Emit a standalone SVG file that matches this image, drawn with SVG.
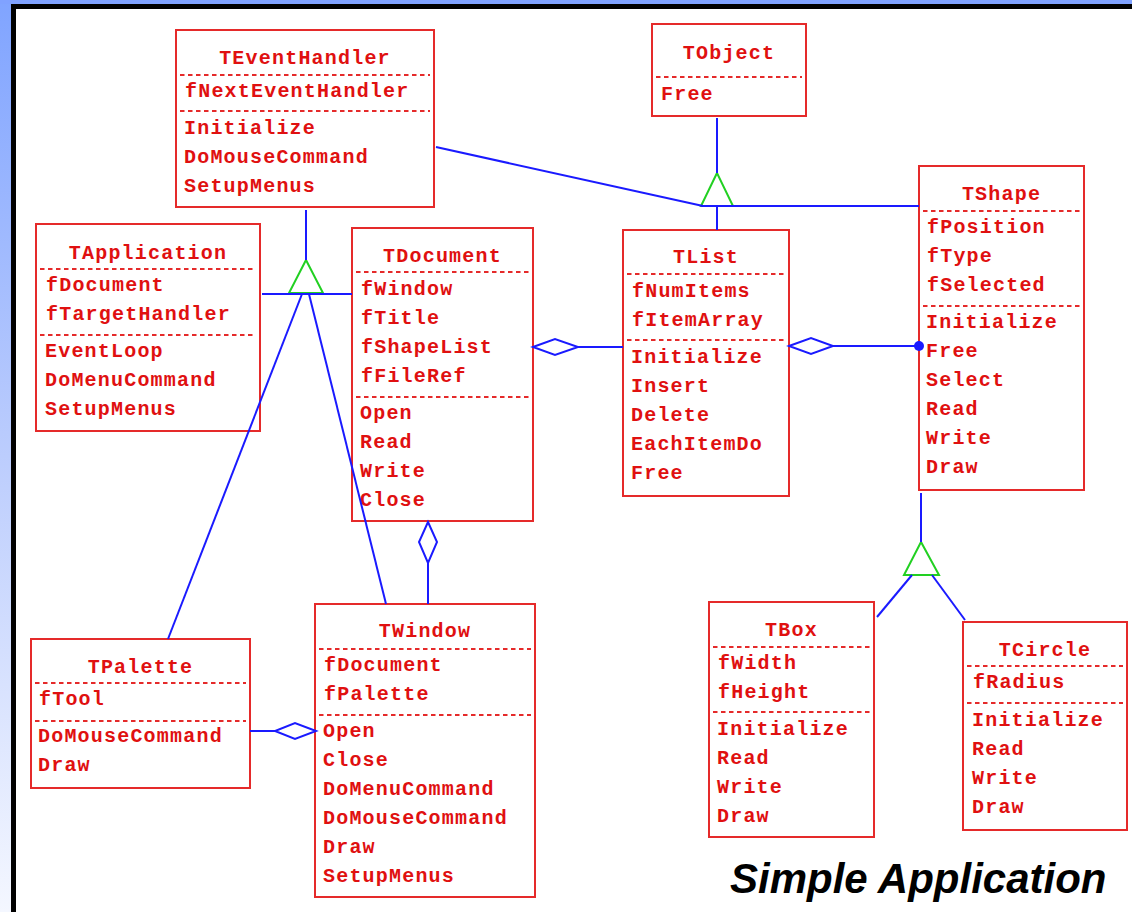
<svg xmlns="http://www.w3.org/2000/svg" width="1132" height="912" viewBox="0 0 1132 912">
  <defs>
    <linearGradient id="sideFade" x1="0" y1="0" x2="0" y2="1">
      <stop offset="0" stop-color="#80a4ff"/>
      <stop offset="0.5" stop-color="#bccdfd"/>
      <stop offset="1" stop-color="#f4f7ff"/>
    </linearGradient>
    <style>
      .box { fill: #ffffff; stroke: #e52a2a; stroke-width: 2; }
      .sep { stroke: #e52a2a; stroke-width: 2; stroke-dasharray: 4.5 3.5; fill: none; }
      .txt { font-family: "Liberation Mono", "Courier New", monospace; font-size: 20px; font-weight: bold; letter-spacing: 1.2px; fill: #e01010; }
      .title { text-anchor: middle; }
      .link { stroke: #1a1aff; stroke-width: 2; fill: none; }
      .agg { stroke: #1a1aff; stroke-width: 2; fill: #ffffff; }
      .gen { stroke: #22d022; stroke-width: 2; fill: #ffffff; }
      .caption { font-family: "Liberation Sans", Arial, sans-serif; font-size: 42px; font-weight: bold; font-style: italic; fill: #000000; }
    </style>
  </defs>

  <!-- frame -->
  <rect x="0" y="0" width="1132" height="912" fill="#ffffff"/>
  <rect x="0" y="0" width="11" height="912" fill="url(#sideFade)"/>
  <rect x="0" y="0" width="1132" height="4" fill="#80a2ff"/>
  <rect x="11" y="4" width="1121" height="5" fill="#000000"/>
  <rect x="11" y="4" width="5" height="908" fill="#000000"/>

  <!-- classes -->
  <g id="TEventHandler">
    <rect class="box" x="176" y="30" width="258" height="177"/>
    <text class="txt title" x="305" y="64">TEventHandler</text>
    <line class="sep" x1="180" y1="75" x2="430" y2="75"/>
    <text class="txt" x="185" y="97">fNextEventHandler</text>
    <line class="sep" x1="180" y1="111" x2="430" y2="111"/>
    <text class="txt" x="184" y="134">Initialize</text>
    <text class="txt" x="184" y="163">DoMouseCommand</text>
    <text class="txt" x="184" y="192">SetupMenus</text>
  </g>

  <g id="TObject">
    <rect class="box" x="652" y="24" width="154" height="92"/>
    <text class="txt title" x="729" y="59">TObject</text>
    <line class="sep" x1="656" y1="77" x2="802" y2="77"/>
    <text class="txt" x="661" y="100">Free</text>
  </g>

  <g id="TApplication">
    <rect class="box" x="36" y="224" width="224" height="207"/>
    <text class="txt title" x="148" y="259">TApplication</text>
    <line class="sep" x1="40" y1="269" x2="256" y2="269"/>
    <text class="txt" x="46" y="291">fDocument</text>
    <text class="txt" x="46" y="320">fTargetHandler</text>
    <line class="sep" x1="40" y1="335" x2="256" y2="335"/>
    <text class="txt" x="45" y="357">EventLoop</text>
    <text class="txt" x="45" y="386">DoMenuCommand</text>
    <text class="txt" x="45" y="415">SetupMenus</text>
  </g>

  <g id="TDocument">
    <rect class="box" x="352" y="228" width="181" height="293"/>
    <text class="txt title" x="442.5" y="262">TDocument</text>
    <line class="sep" x1="356" y1="272" x2="529" y2="272"/>
    <text class="txt" x="361" y="295">fWindow</text>
    <text class="txt" x="361" y="324">fTitle</text>
    <text class="txt" x="361" y="353">fShapeList</text>
    <text class="txt" x="361" y="382">fFileRef</text>
    <line class="sep" x1="356" y1="397" x2="529" y2="397"/>
    <text class="txt" x="360" y="419">Open</text>
    <text class="txt" x="360" y="448">Read</text>
    <text class="txt" x="360" y="477">Write</text>
    <text class="txt" x="360" y="506">Close</text>
  </g>

  <g id="TList">
    <rect class="box" x="623" y="230" width="166" height="266"/>
    <text class="txt title" x="706" y="263">TList</text>
    <line class="sep" x1="627" y1="274" x2="785" y2="274"/>
    <text class="txt" x="632" y="297">fNumItems</text>
    <text class="txt" x="632" y="326">fItemArray</text>
    <line class="sep" x1="627" y1="340" x2="785" y2="340"/>
    <text class="txt" x="631" y="363">Initialize</text>
    <text class="txt" x="631" y="392">Insert</text>
    <text class="txt" x="631" y="421">Delete</text>
    <text class="txt" x="631" y="450">EachItemDo</text>
    <text class="txt" x="631" y="479">Free</text>
  </g>

  <g id="TShape">
    <rect class="box" x="919" y="166" width="165" height="324"/>
    <text class="txt title" x="1001.5" y="200">TShape</text>
    <line class="sep" x1="923" y1="211" x2="1080" y2="211"/>
    <text class="txt" x="927" y="233">fPosition</text>
    <text class="txt" x="927" y="262">fType</text>
    <text class="txt" x="927" y="291">fSelected</text>
    <line class="sep" x1="923" y1="306" x2="1080" y2="306"/>
    <text class="txt" x="926" y="328">Initialize</text>
    <text class="txt" x="926" y="357">Free</text>
    <text class="txt" x="926" y="386">Select</text>
    <text class="txt" x="926" y="415">Read</text>
    <text class="txt" x="926" y="444">Write</text>
    <text class="txt" x="926" y="473">Draw</text>
  </g>

  <g id="TPalette">
    <rect class="box" x="31" y="639" width="219" height="149"/>
    <text class="txt title" x="140.5" y="673">TPalette</text>
    <line class="sep" x1="35" y1="683" x2="246" y2="683"/>
    <text class="txt" x="39" y="705">fTool</text>
    <line class="sep" x1="35" y1="721" x2="246" y2="721"/>
    <text class="txt" x="38" y="742">DoMouseCommand</text>
    <text class="txt" x="38" y="771">Draw</text>
  </g>

  <g id="TWindow">
    <rect class="box" x="315" y="604" width="220" height="293"/>
    <text class="txt title" x="425" y="637">TWindow</text>
    <line class="sep" x1="319" y1="649" x2="531" y2="649"/>
    <text class="txt" x="324" y="671">fDocument</text>
    <text class="txt" x="324" y="700">fPalette</text>
    <line class="sep" x1="319" y1="715" x2="531" y2="715"/>
    <text class="txt" x="323" y="737">Open</text>
    <text class="txt" x="323" y="766">Close</text>
    <text class="txt" x="323" y="795">DoMenuCommand</text>
    <text class="txt" x="323" y="824">DoMouseCommand</text>
    <text class="txt" x="323" y="853">Draw</text>
    <text class="txt" x="323" y="882">SetupMenus</text>
  </g>

  <g id="TBox">
    <rect class="box" x="709" y="602" width="165" height="235"/>
    <text class="txt title" x="791.5" y="636">TBox</text>
    <line class="sep" x1="713" y1="647" x2="870" y2="647"/>
    <text class="txt" x="718" y="669">fWidth</text>
    <text class="txt" x="718" y="698">fHeight</text>
    <line class="sep" x1="713" y1="712" x2="870" y2="712"/>
    <text class="txt" x="717" y="735">Initialize</text>
    <text class="txt" x="717" y="764">Read</text>
    <text class="txt" x="717" y="793">Write</text>
    <text class="txt" x="717" y="822">Draw</text>
  </g>

  <g id="TCircle">
    <rect class="box" x="963" y="622" width="164" height="208"/>
    <text class="txt title" x="1045" y="656">TCircle</text>
    <line class="sep" x1="967" y1="666" x2="1123" y2="666"/>
    <text class="txt" x="973" y="688">fRadius</text>
    <line class="sep" x1="967" y1="703" x2="1123" y2="703"/>
    <text class="txt" x="972" y="726">Initialize</text>
    <text class="txt" x="972" y="755">Read</text>
    <text class="txt" x="972" y="784">Write</text>
    <text class="txt" x="972" y="813">Draw</text>
  </g>

  <!-- relationships -->
  <g id="connectors">
    <!-- generalisation triangles -->
    <polygon class="gen" points="717,173 701,206 733,206"/>
    <polygon class="gen" points="306,260 289,293 323,293"/>
    <polygon class="gen" points="921,542 904,575 939,575"/>

    <!-- inheritance from TObject -->
    <line class="link" x1="717" y1="118" x2="717" y2="173"/>
    <line class="link" x1="701" y1="206" x2="919" y2="206"/>
    <line class="link" x1="436" y1="147" x2="703" y2="206"/>
    <line class="link" x1="717" y1="206" x2="717" y2="230"/>

    <!-- inheritance from TEventHandler -->
    <line class="link" x1="306" y1="210" x2="306" y2="260"/>
    <line class="link" x1="262" y1="294" x2="352" y2="294"/>
    <line class="link" x1="302" y1="294" x2="168" y2="639"/>
    <line class="link" x1="309" y1="294" x2="386" y2="604"/>

    <!-- inheritance from TShape -->
    <line class="link" x1="921" y1="493" x2="921" y2="542"/>
    <line class="link" x1="912" y1="575" x2="877" y2="617"/>
    <line class="link" x1="932" y1="575" x2="965" y2="620"/>

    <!-- aggregations -->
    <polygon class="agg" points="533,347 555,339 578,347 555,355"/>
    <line class="link" x1="578" y1="347" x2="623" y2="347"/>

    <polygon class="agg" points="789,346 811,338 833,346 811,354"/>
    <line class="link" x1="833" y1="346" x2="919" y2="346"/>
    <circle cx="919" cy="346" r="5" fill="#1a1aff"/>

    <polygon class="agg" points="428,522 437,542 428,563 419,542"/>
    <line class="link" x1="428" y1="563" x2="428" y2="604"/>

    <polygon class="agg" points="316,731 295,723 275,731 295,739"/>
    <line class="link" x1="250" y1="731" x2="275" y2="731"/>
  </g>

  <text class="caption" x="730" y="893">Simple Application</text>
</svg>
